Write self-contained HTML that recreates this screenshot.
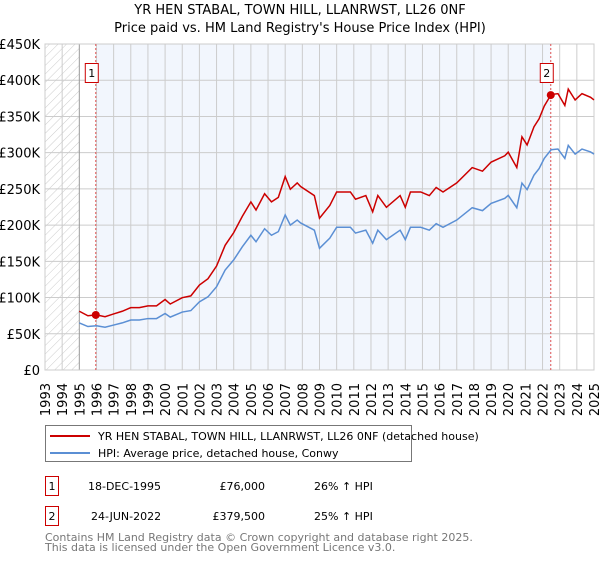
<!DOCTYPE html>
<html><head><meta charset="utf-8"><style>
body{margin:0;background:#fff;font-family:"DejaVu Sans","Liberation Sans",sans-serif;}
svg text{font-family:"DejaVu Sans","Liberation Sans",sans-serif;}
</style></head><body>
<svg id="chart" width="600" height="560" viewBox="0 0 600 560">
<defs><pattern id="hatch" width="6" height="6" patternUnits="userSpaceOnUse" patternTransform="rotate(45)"><line x1="0" y1="0" x2="0" y2="6" stroke="#ccc" stroke-width="1"/></pattern></defs>
<text x="300" y="14" text-anchor="middle" font-size="13">YR HEN STABAL, TOWN HILL, LLANRWST, LL26 0NF</text>
<text x="300" y="32" text-anchor="middle" font-size="13">Price paid vs. HM Land Registry's House Price Index (HPI)</text>
<g id="plot"></g>
<g>
<rect x="45.5" y="425.5" width="366" height="36" fill="#fff" stroke="#777"/>
<line x1="50" y1="436" x2="90" y2="436" stroke="#cc0000" stroke-width="2"/>
<text x="98" y="440" font-size="11">YR HEN STABAL, TOWN HILL, LLANRWST, LL26 0NF (detached house)</text>
<line x1="50" y1="453" x2="90" y2="453" stroke="#5b8fd4" stroke-width="2"/>
<text x="98" y="457" font-size="11">HPI: Average price, detached house, Conwy</text>
</g>
<g font-size="11">
<rect x="45.5" y="476.5" width="13" height="19" fill="#fff" stroke="#cc0000"/><text x="52" y="490" text-anchor="middle">1</text>
<text x="88" y="490">18-DEC-1995</text><text x="265" y="490" text-anchor="end">£76,000</text><text x="314" y="490">26% ↑ HPI</text>
<rect x="45.5" y="506.5" width="13" height="19" fill="#fff" stroke="#cc0000"/><text x="52" y="520" text-anchor="middle">2</text>
<text x="91" y="520">24-JUN-2022</text><text x="265" y="520" text-anchor="end">£379,500</text><text x="314" y="520">25% ↑ HPI</text>
</g>
<text x="45" y="541" font-size="11" fill="#777">Contains HM Land Registry data © Crown copyright and database right 2025.</text>
<text x="45" y="551" font-size="11" fill="#777">This data is licensed under the Open Government Licence v3.0.</text>
</svg>
<script>
const hpiYears=[1995.0,1995.5,1996.0,1996.5,1997.0,1997.5,1998.0,1998.5,1999.0,1999.5,2000.0,2000.3,2001.0,2001.5,2002.0,2002.5,2003.0,2003.5,2004.0,2004.5,2005.0,2005.3,2005.8,2006.2,2006.6,2007.0,2007.3,2007.7,2007.9,2008.7,2009.0,2009.6,2010.0,2010.8,2011.1,2011.7,2012.1,2012.4,2012.9,2013.7,2014.0,2014.3,2014.9,2015.4,2015.8,2016.2,2017.0,2017.9,2018.5,2019.0,2019.8,2020.0,2020.5,2020.8,2021.1,2021.5,2021.8,2022.1,2022.5,2022.9,2023.3,2023.5,2023.9,2024.3,2024.8,2025.0];
const hpiValues=[65,60,61,59,62,65,69,69,71,71,78,73,80,82,94,101,115,138,152,170,186,177,195,186,191,214,200,207,203,193,168,182,197,197,189,193,175,193,180,193,180,197,197,193,202,197,207,224,220,230,237,241,224,258,249,269,278,292,304,305,292,310,298,305,301,298];
const saleYears=[1995.96,2022.48];
const salePrices=[76000,379500];
const saleLabels=["1","2"];
const yTicks=[0,50,100,150,200,250,300,350,400,450];
const yTickLabels=["£0","£50K","£100K","£150K","£200K","£250K","£300K","£350K","£400K","£450K"];
const xTicks=[1993,1994,1995,1996,1997,1998,1999,2000,2001,2002,2003,2004,2005,2006,2007,2008,2009,2010,2011,2012,2013,2014,2015,2016,2017,2018,2019,2020,2021,2022,2023,2024,2025];

const NS="http://www.w3.org/2000/svg";
const X0=45,X1=594,Y0=370,Y1=44;
const xs=y=>X0+(y-1993)/(2025-1993)*(X1-X0);
const ys=v=>Y0-v/450*(Y0-Y1);
const g=document.getElementById('plot');
function mk(tag,at,parent){const e=document.createElementNS(NS,tag);for(const k in at)e.setAttribute(k,at[k]);(parent||g).appendChild(e);return e;}

function interp(t){for(let i=0;i<hpiYears.length-1;i++){if(t>=hpiYears[i]&&t<=hpiYears[i+1]){const f=(t-hpiYears[i])/(hpiYears[i+1]-hpiYears[i]);return hpiValues[i]+f*(hpiValues[i+1]-hpiValues[i]);}}return hpiValues[hpiValues.length-1];}

// backgrounds
const bg=mk('rect',{x:xs(saleYears[0]),y:Y1,width:xs(saleYears[1])-xs(saleYears[0]),height:Y0-Y1,fill:'#f2f6fd'});


const ht=mk('rect',{x:X0,y:Y1,width:xs(1995)-X0,height:Y0-Y1,fill:'url(#hatch)'});



yTicks.forEach((v,i)=>{
 const l=mk('line',{x1:X0,x2:X1,y1:ys(v),y2:ys(v),stroke:'#ccc','stroke-width':1});
 
 
 const t=mk('text',{x:X0-5,y:ys(v)+5,'text-anchor':'end','font-size':13});
 t.textContent=yTickLabels[i];
 
 
});
xTicks.forEach(yr=>{
 const l=mk('line',{x1:xs(yr),x2:xs(yr),y1:Y1,y2:Y0,stroke:yr==1995?'#999':'#ccc','stroke-width':1});
 
 
 const t=mk('text',{x:0,y:0,'text-anchor':'end','font-size':13,transform:`translate(${xs(yr)+5},383) rotate(-90)`});
 t.textContent=String(yr);
 
 
});
mk('rect',{x:X0,y:Y1,width:X1-X0,height:Y0-Y1,fill:'none',stroke:'#ccc'});

// sale verticals
saleYears.forEach((yr,i)=>{
 const l=mk('line',{x1:xs(yr),x2:xs(yr),y1:Y1,y2:Y0,stroke:'#e05050','stroke-width':1,'stroke-dasharray':'2,2'});
 
 
});

// HPI line
const hp=mk('polyline',{points:hpiYears.map((y,i)=>xs(y)+','+ys(hpiValues[i])).join(' '),fill:'none',stroke:'#5b8fd4','stroke-width':1.5});


// price paid indexed line
const r1=salePrices[0]/1000/interp(saleYears[0]),r2=salePrices[1]/1000/interp(saleYears[1]);
const pp=mk('polyline',{points:hpiYears.map((y,i)=>xs(y)+','+ys(hpiValues[i]*(y<saleYears[1]?r1:r2))).join(' '),fill:'none',stroke:'#cc0000','stroke-width':1.5});



saleYears.forEach((yr,i)=>{
 const c=mk('circle',{cx:xs(yr),cy:ys(salePrices[i]/1000),r:4,fill:'#cc0000'});
 
 
 const bx=xs(yr)-6-(i==0?5:5);
 const b=mk('rect',{x:bx+0.5,y:63.5,width:13,height:19,fill:'#fff',stroke:'#cc0000'});
 
 
 const t=mk('text',{x:bx+7,y:77,'text-anchor':'middle','font-size':11});
 t.textContent=saleLabels[i];
 
 
});
</script>
</body></html>
